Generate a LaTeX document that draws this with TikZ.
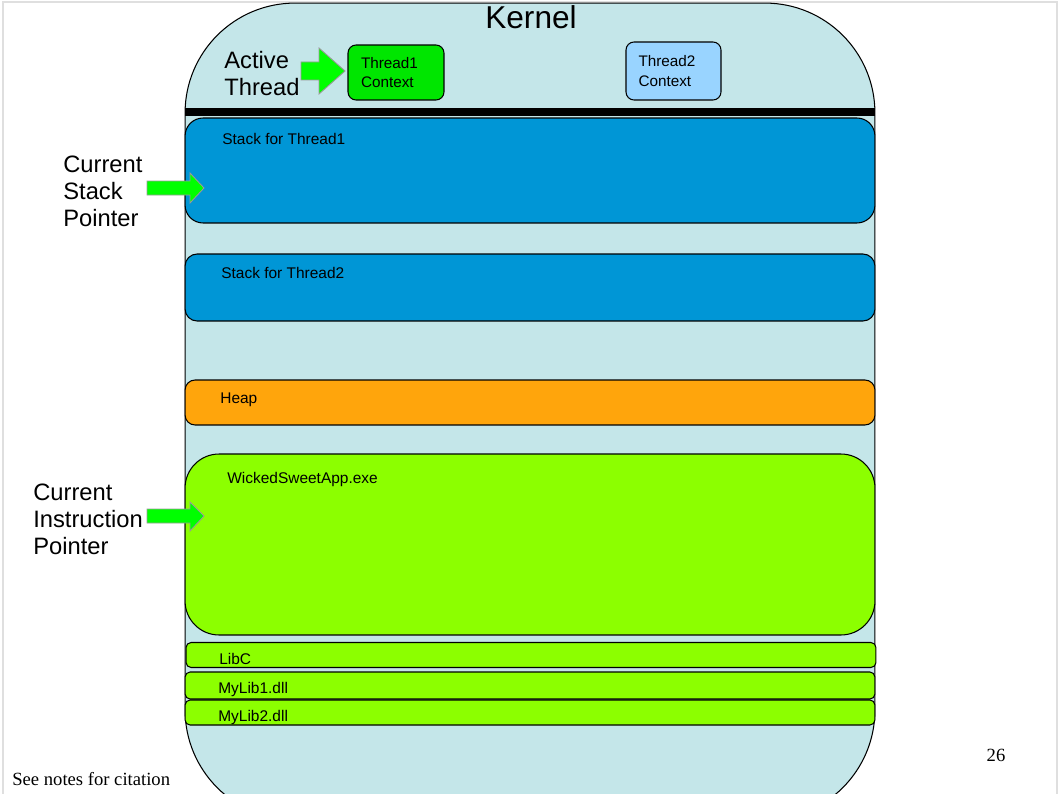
\documentclass[tikz,border=0pt]{standalone}
\usepackage{fontspec}
\setmainfont{Liberation Sans}
\newfontfamily\notefont{Liberation Serif}
\usepackage{xcolor}
\usepackage{tikz}

\definecolor{kernelbg}{HTML}{C4E6E9}
\definecolor{stackblue}{HTML}{0096D6}
\definecolor{heaporange}{HTML}{FFA50C}
\definecolor{appgreen}{HTML}{8CFF00}
\definecolor{ctxgreen}{HTML}{00E600}
\definecolor{ctxblue}{HTML}{99D4FF}
\definecolor{ptrgreen}{HTML}{00FF00}

\begin{document}
\begin{tikzpicture}[
  x=0.02cm, y=-0.02cm,
  seg/.style={rectangle, draw=black, line width=0.6pt, minimum width=13.8cm, inner sep=0pt},
  lbl/.style={anchor=base west, inner sep=0pt, font=\fontsize{8.8}{10.6}\selectfont},
  ctx/.style={rectangle, draw=black, line width=0.6pt, rounded corners=0.16cm, align=left,
              text width=1.4cm, inner xsep=0.25cm, font=\fontsize{8.7}{11.2}\selectfont},
  side/.style={anchor=west, align=left, inner sep=0pt, font=\fontsize{13.5}{15.4}\selectfont},
  ptr/.style={draw=gray!80, fill=ptrgreen, line width=0.5pt}
]
\useasboundingbox (0,0) rectangle (1061,794);

% Slide frame
\draw[gray!25, line width=0.6pt] (3,800) -- (3,2) -- (1057,2) -- (1057,800);

% Kernel
\begin{scope}
\clip (0,0) rectangle (1061,794);
\node[draw=black, line width=0.6pt, fill=kernelbg, rounded corners=2.2cm, minimum width=13.8cm,
      minimum height=16.34cm, inner sep=0pt] (kernel) at (530,411.5) {};
\end{scope}
\node[font=\fontsize{18}{21}\selectfont, anchor=base, inner sep=0pt] (kerneltxt) at (531,29) {Kernel};
\draw[line width=4pt] (185,112) -- (875,112);

% Thread contexts
\node[side] (active) at (224,73.5) {Active\\Thread};
\node[ctx, fill=ctxgreen, minimum width=1.92cm, minimum height=1.1cm] (ctx1) at (396,72.5) {Thread1\\Context};
\node[ctx, fill=ctxblue, minimum width=1.9cm, minimum height=1.16cm] (ctx2) at (673.5,71) {Thread2\\Context};
\draw[ptr] (301,62) -- (319,62) -- (319,48) -- (345,71) -- (319,94) -- (319,80) -- (301,80) -- cycle;

% Stacks
\node[seg, fill=stackblue, minimum height=2.1cm, rounded corners=0.36cm] (stack1) at (530,170.5) {};
\node[lbl] (stack1txt) at (222,144) {Stack for Thread1};
\node[seg, fill=stackblue, minimum height=1.34cm, rounded corners=0.24cm] (stack2) at (530,287.5) {};
\node[lbl] (stack2txt) at (221,278) {Stack for Thread2};

% Heap
\node[seg, fill=heaporange, minimum height=0.9cm, rounded corners=0.2cm] (heap) at (530,402.5) {};
\node[lbl] (heaptxt) at (220,403) {Heap};

% Program and libraries
\node[seg, fill=appgreen, minimum height=3.62cm, rounded corners=0.68cm] (app) at (530,544.5) {};
\node[lbl] (apptxt) at (227,483) {WickedSweetApp.exe};
\node[seg, fill=appgreen, minimum height=0.5cm, rounded corners=0.1cm] (libc) at (531,655) {};
\node[lbl] (libctxt) at (219,664) {LibC};
\node[seg, fill=appgreen, minimum height=0.54cm, rounded corners=0.1cm] (mylib1) at (530,685.5) {};
\node[lbl] (mylib1txt) at (218,693) {MyLib1.dll};
\node[seg, fill=appgreen, minimum height=0.5cm, rounded corners=0.1cm] (mylib2) at (530,712.5) {};
\node[lbl] (mylib2txt) at (218,721) {MyLib2.dll};

% Pointers
\node[side] (sp) at (63,191.5) {Current\\Stack\\Pointer};
\draw[ptr] (147,181) -- (190,181) -- (190,173) -- (204,188) -- (190,203) -- (190,195) -- (147,195) -- cycle;
\node[side] (ip) at (33,519.5) {Current\\Instruction\\Pointer};
\draw[ptr] (147,509) -- (190,509) -- (190,502) -- (204,516) -- (190,531) -- (190,523) -- (147,523) -- cycle;

% Footer
\node[anchor=base west, inner sep=0pt, font=\notefont\fontsize{10.6}{12.7}\selectfont] (note) at (12,785) {See notes for citation};
\node[anchor=base, inner sep=0pt, font=\notefont\fontsize{10.6}{12.7}\selectfont] (page) at (996,761) {26};
\end{tikzpicture}
\end{document}
